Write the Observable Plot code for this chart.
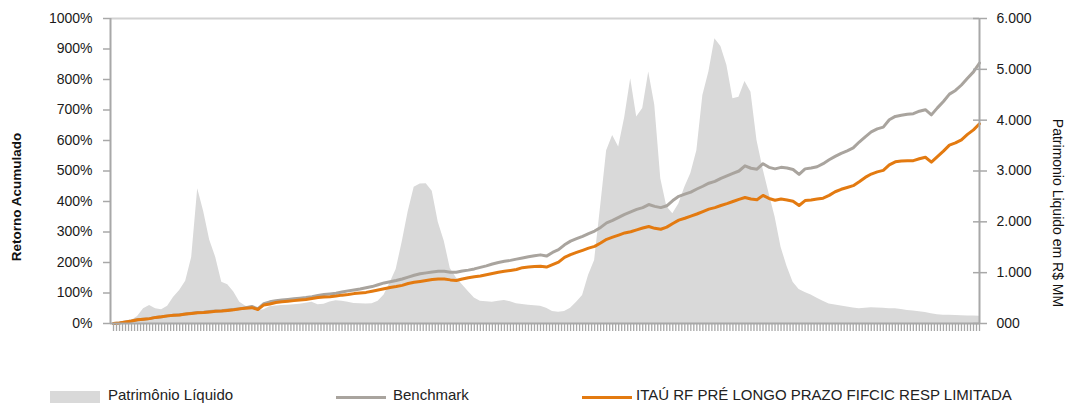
<!DOCTYPE html>
<html><head><meta charset="utf-8">
<script src="https://cdn.jsdelivr.net/npm/d3@7"></script>
<script src="https://cdn.jsdelivr.net/npm/@observablehq/plot@0.6"></script>
<style>
body{margin:0;background:#fff;font-family:"Liberation Sans",Arial,sans-serif;}
#wrap{position:relative;width:1065px;height:403px;overflow:hidden;background:#fff;}
#chart{position:absolute;left:0;top:0;}
.ytitle{position:absolute;white-space:nowrap;color:#111;line-height:1;}
#lt{left:17px;top:197px;font-size:13.5px;font-weight:bold;transform:translate(-50%,-50%) rotate(-90deg);}
#rt{left:1058px;top:213px;font-size:14px;transform:translate(-50%,-50%) rotate(90deg);}
.lg{position:absolute;top:387px;font-size:15px;color:#222;white-space:nowrap;line-height:1;}
.sw{position:absolute;}
</style></head><body>
<div id="wrap">
  <div id="chart"></div>
  <div id="lt" class="ytitle">Retorno Acumulado</div>
  <div id="rt" class="ytitle">Patrimonio Liquido em R$ MM</div>
</div>
<script>
// ---- data (one value every 2 months, 289 monthly ticks) ----
const seriesNames = ["Patrimônio Líquido", "Benchmark", "ITAÚ RF PRÉ LONGO PRAZO FIFCIC RESP LIMITADA"];
const leftTicks = [0,100,200,300,400,500,600,700,800,900,1000];
const rightTicks = [0,1000,2000,3000,4000,5000,6000];
const rightLabels = ["000","1.000","2.000","3.000","4.000","5.000","6.000"];
const monthTicks = d3.range(0, 289);

// Patrimônio Líquido (R$ MM)
const pl = [
  0,10,30,60,140,290,354,290,270,340,
  518,650,830,1300,2650,2200,1640,1300,813,760,
  620,420,340,321,250,270,330,345,354,360,
  370,380,400,419,370,380,425,450,439,420,
  395,387,385,390,440,560,800,1060,1600,2200,
  2681,2745,2750,2600,1990,1620,1080,900,760,630,
  500,440,430,419,440,452,430,390,375,360,
  350,340,300,235,220,236,300,420,551,950,
  1239,2300,3400,3700,3470,4050,4813,4060,4230,4950,
  4300,2850,2300,2158,2350,2681,2950,3400,4485,4950,
  5600,5450,5075,4420,4450,4760,4550,3600,3043,2560,
  2100,1500,1120,813,670,610,560,495,440,385,
  365,345,325,305,290,300,308,305,300,292,
  288,275,258,245,232,218,190,170,163,160,
  156,152,150,146,144
];
// Benchmark (% acumulado)
const benchmark = [
  0,2,5,8,12,14,16,20,22,25,
  27,29,31,34,36,37,39,41,42,44,
  46,48,52,56,48,65,71,75,77,79,
  81,83,85,88,92,95,97,99,103,107,
  110,113,117,121,127,133,137,141,146,152,
  158,163,166,169,171,171,168,168,172,175,
  179,184,189,195,200,204,207,211,215,219,
  222,225,221,233,242,258,270,278,286,295,
  303,315,330,338,348,358,366,374,380,390,
  384,380,386,403,417,424,431,441,450,460,
  466,476,484,492,500,517,509,506,524,512,
  507,512,510,505,489,507,510,514,524,537,
  548,558,566,576,595,612,628,638,644,668,
  679,683,686,688,696,701,684,707,728,752,
  764,782,804,825,854
];
// Fundo (% acumulado)
const fund = [
  0,2,5,8,12,14,16,20,22,25,
  27,28,31,33,35,36,38,40,41,43,
  45,48,50,52,46,61,64,69,71,73,
  75,77,79,82,85,87,88,90,93,95,
  98,100,102,106,110,114,118,121,125,131,
  135,138,141,144,146,146,143,141,146,150,
  153,156,160,164,168,171,174,177,183,185,
  187,188,185,193,201,217,226,233,240,247,
  253,264,276,283,290,297,301,307,313,318,
  312,309,316,328,339,345,352,359,367,375,
  380,387,393,400,407,413,408,406,420,410,
  404,408,405,401,387,403,405,408,411,420,
  432,440,446,452,465,479,490,497,502,520,
  530,533,534,534,540,545,529,547,565,585,
  592,602,620,635,655
];

const rows = pl.map((v, i) => ({m: i * 2, pl: v, bench: benchmark[i], fund: fund[i]}));
const plMax = rightTicks[rightTicks.length - 1];
const retMax = leftTicks[leftTicks.length - 1];
const toLeft = v => v * retMax / plMax;
const xDomain = [-1, 288];

const colors = {area: "#d9d9d9", bench: "#a9a49e", fund: "#e37a10", axis: "#a8a8a8"};

const chart = Plot.plot({
  width: 1065,
  height: 340,
  marginLeft: 110,
  marginRight: 86,
  marginTop: 18,
  marginBottom: 17,
  x: {domain: xDomain, axis: null, label: null},
  y: {domain: [0, retMax], axis: null, label: null},
  style: {fontFamily: "'Liberation Sans', Arial, sans-serif", fontSize: "14px", color: "#1a1a1a", background: "transparent", overflow: "visible"},
  marks: [
    Plot.areaY(rows, {x: "m", y: d => toLeft(d.pl), fill: colors.area}),
    Plot.ruleY([retMax], {stroke: "#d2d2d2", strokeWidth: 2}),
    Plot.line(rows, {x: "m", y: "bench", stroke: colors.bench, strokeWidth: 3}),
    Plot.line(rows, {x: "m", y: "fund", stroke: colors.fund, strokeWidth: 3}),
    Plot.axisX(monthTicks, {anchor: "bottom", tickSize: 8, tickFormat: () => "", label: null, stroke: colors.axis, strokeWidth: 1.3}),
    Plot.ruleY([0], {stroke: colors.axis, strokeWidth: 2}),
    Plot.ruleX([xDomain[0]], {stroke: colors.axis, strokeWidth: 2}),
    Plot.ruleX([xDomain[1]], {stroke: colors.axis, strokeWidth: 2}),
    Plot.axisY(leftTicks, {anchor: "left", tickSize: 7, tickPadding: 11, tickFormat: d => d + "%", label: null, stroke: colors.axis, strokeWidth: 1.5}),
    Plot.axisY(rightTicks.map(toLeft), {anchor: "right", tickSize: 14, dx: -7, tickPadding: 10, tickFormat: (d) => rightLabels[rightTicks.indexOf(Math.round(d * plMax / retMax))], label: null, stroke: colors.axis, strokeWidth: 1.5})
  ]
});
document.getElementById("chart").appendChild(chart);

// ---- legend ----
const wrap = d3.select("#wrap");
const legendItems = [
  {name: seriesNames[0], kind: "area", color: colors.area, left: 50, textLeft: 108},
  {name: seriesNames[1], kind: "line", color: colors.bench, left: 336, textLeft: 393},
  {name: seriesNames[2], kind: "line", color: colors.fund, left: 582, textLeft: 636}
];
legendItems.forEach(it => {
  if (it.kind === "area") {
    wrap.append("div").attr("class", "sw")
      .style("left", it.left + "px").style("top", "391px")
      .style("width", "50px").style("height", "12px").style("background", it.color);
  } else {
    wrap.append("div").attr("class", "sw")
      .style("left", it.left + "px").style("top", "396px")
      .style("width", "50px").style("height", "3px").style("background", it.color);
  }
  wrap.append("div").attr("class", "lg").style("left", it.textLeft + "px").text(it.name);
});
</script>
</body></html>
